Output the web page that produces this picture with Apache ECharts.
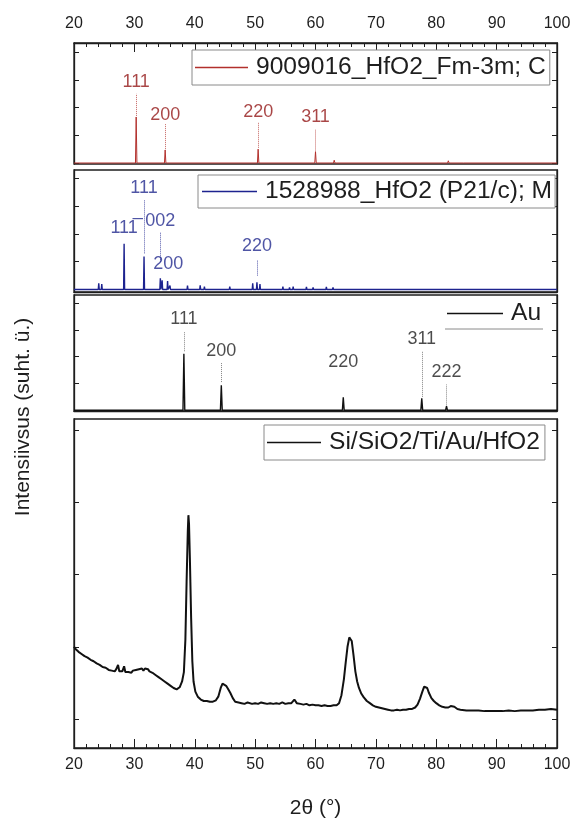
<!DOCTYPE html>
<html>
<head>
<meta charset="utf-8">
<script src="https://cdn.jsdelivr.net/npm/echarts@6/dist/echarts.min.js"></script>
<style>
  html, body { margin: 0; padding: 0; background: #fff; }
  #chart { width: 578px; height: 823px; }
</style>
</head>
<body>
<div id="chart"></div>
<script>
// ---- Reference patterns (relative intensity) ----
const cubicName = '9009016_HfO2_Fm-3m; C';
const cubicTheta = [30.3, 35.1, 50.5, 60.0, 63.1, 74.3, 82.0, 84.6, 95.0];
const cubicInt   = [1.66, 0.47, 0.50, 0.41, 0.10, 0.04, 0.08, 0.06, 0.06];

const monoName = '1528988_HfO2 (P21/c); M';
const monoTheta = [24.1, 24.6, 28.3, 31.6, 34.3, 34.6, 35.5, 35.9, 38.8, 40.9, 41.6, 45.8,
                   49.6, 50.3, 50.8, 54.6, 55.7, 56.3, 57.4, 58.5, 59.6, 60.7, 61.8, 62.9,
                   63.5, 66.2, 75.3];
const monoInt   = [0.22, 0.20, 1.65, 1.19, 0.40, 0.33, 0.30, 0.14, 0.14, 0.15, 0.10, 0.10,
                   0.22, 0.26, 0.20, 0.10, 0.08, 0.10, 0.07, 0.09, 0.08, 0.07, 0.09, 0.08,
                   0.06, 0.05, 0.04];

const auName = 'Au';
const auTheta = [38.2, 44.4, 64.6, 77.6, 81.7, 98.1];
const auInt   = [2.11, 0.93, 0.48, 0.44, 0.15, 0.05];

// ---- Measured film pattern: [2θ, intensity] ----
const sampleName = 'Si/SiO2/Ti/Au/HfO2';
const sampleScan = [
  [20.0, 2.00], [20.25, 1.97], [20.5, 1.96], [20.75, 1.93], [21.0, 1.94], [21.25, 1.90],
  [21.5, 1.90], [21.75, 1.87], [22.0, 1.88], [22.25, 1.85], [22.5, 1.85], [22.75, 1.82],
  [23.0, 1.83], [23.25, 1.80], [23.5, 1.80], [23.75, 1.77], [24.0, 1.78], [24.25, 1.75],
  [24.5, 1.76], [24.75, 1.72], [25.0, 1.74], [25.25, 1.71], [25.5, 1.71], [25.75, 1.68],
  [26.0, 1.70], [26.25, 1.67], [26.5, 1.68], [26.75, 1.66], [27.0, 1.69], [27.3, 1.75],
  [27.5, 1.66], [27.75, 1.68], [28.0, 1.66], [28.3, 1.73], [28.5, 1.65], [28.75, 1.67],
  [29.0, 1.65], [29.25, 1.67], [29.5, 1.64], [29.75, 1.67], [30.0, 1.65], [30.25, 1.68],
  [30.5, 1.66], [30.75, 1.69], [31.0, 1.67], [31.25, 1.70], [31.5, 1.67], [31.75, 1.70],
  [32.0, 1.68], [32.25, 1.69], [32.5, 1.66], [32.75, 1.67], [33.0, 1.64], [33.25, 1.64],
  [33.5, 1.61], [33.75, 1.61], [34.0, 1.58], [34.25, 1.58], [34.5, 1.55], [34.75, 1.54],
  [35.0, 1.52], [35.25, 1.51], [35.5, 1.49], [35.75, 1.48], [36.0, 1.46], [36.25, 1.45],
  [36.5, 1.43], [36.75, 1.43], [37.0, 1.41], [37.25, 1.43], [37.5, 1.44], [37.9, 1.52],
  [38.2, 1.65], [38.45, 2.10], [38.65, 2.90], [38.85, 3.60], [38.95, 3.82], [39.05, 3.70],
  [39.2, 3.20], [39.4, 2.40], [39.6, 1.80], [39.8, 1.52], [40.1, 1.38], [40.5, 1.31],
  [40.75, 1.29], [41.0, 1.27], [41.25, 1.26], [41.5, 1.25], [41.75, 1.27], [42.0, 1.25],
  [42.25, 1.26], [42.5, 1.24], [42.75, 1.25], [43.0, 1.24], [43.25, 1.26], [43.5, 1.26],
  [43.9, 1.31], [44.3, 1.43], [44.6, 1.49], [44.9, 1.51], [45.2, 1.46], [45.5, 1.42],
  [45.9, 1.36], [46.3, 1.29], [46.7, 1.24], [47.0, 1.22], [47.25, 1.23], [47.5, 1.21],
  [47.75, 1.22], [48.0, 1.23], [48.25, 1.21], [48.5, 1.21], [48.75, 1.23], [49.0, 1.22],
  [49.5, 1.21], [50.0, 1.22], [50.5, 1.21], [51.0, 1.23], [51.5, 1.22], [52.0, 1.21],
  [52.5, 1.22], [53.0, 1.21], [53.5, 1.22], [54.0, 1.21], [54.5, 1.23], [55.0, 1.21],
  [55.5, 1.22], [56.0, 1.22], [56.5, 1.27], [56.9, 1.22], [57.5, 1.21], [58.0, 1.20],
  [58.5, 1.21], [59.0, 1.19], [59.5, 1.20], [60.0, 1.19], [60.5, 1.19], [61.0, 1.18],
  [61.5, 1.19], [62.0, 1.18], [62.5, 1.18], [63.0, 1.19], [63.5, 1.19], [63.9, 1.22],
  [64.3, 1.33], [64.7, 1.55], [65.0, 1.78], [65.3, 2.00], [65.6, 2.13], [65.8, 2.15],
  [66.0, 2.08], [66.3, 1.88], [66.6, 1.66], [66.9, 1.52], [67.2, 1.43], [67.6, 1.35],
  [68.0, 1.30], [68.5, 1.25], [69.0, 1.22], [69.5, 1.19], [70.0, 1.17], [70.5, 1.16],
  [71.0, 1.15], [71.5, 1.14], [72.0, 1.13], [72.5, 1.12], [73.0, 1.12], [73.5, 1.13],
  [74.0, 1.12], [74.5, 1.13], [75.0, 1.13], [75.5, 1.14], [76.0, 1.14], [76.5, 1.16],
  [76.9, 1.20], [77.3, 1.28], [77.7, 1.38], [78.0, 1.45], [78.25, 1.47], [78.5, 1.43],
  [78.8, 1.36], [79.2, 1.29], [79.6, 1.25], [80.0, 1.22], [80.5, 1.19], [81.0, 1.17],
  [81.5, 1.16], [82.0, 1.16], [82.4, 1.18], [82.7, 1.20], [83.0, 1.17], [83.5, 1.14],
  [84.0, 1.13], [85.0, 1.12], [86.0, 1.12], [87.0, 1.12], [88.0, 1.11], [89.0, 1.11],
  [90.0, 1.11], [91.0, 1.11], [92.0, 1.12], [93.0, 1.11], [94.0, 1.12], [95.0, 1.12],
  [96.0, 1.12], [97.0, 1.13], [98.0, 1.13], [99.0, 1.14], [100.0, 1.13]
];

// ---- Miller index annotations: peak angle, guide span and text height ----
const cubicHkl       = ['111', '200', '220', '311'];
const cubicHklTheta  = [30.3, 35.1, 50.5, 60.0];
const cubicGuideLow  = [1.70, 0.50, 0.55, 0.45];
const cubicGuideHigh = [2.50, 1.40, 1.45, 1.20];
const cubicTextAt    = [2.92, 1.73, 1.85, 1.67];

const monoHkl       = ['111', '11\u0031\u0305', '002', '200', '220'];
const monoHklTheta  = [31.6, 28.3, 34.3, 35.6, 50.3];
const monoGuideLow  = [1.30, null, 1.00, null, 0.50];
const monoGuideHigh = [3.25, null, 2.05, null, 1.06];
const monoTextAt    = [3.66, 2.20, 2.46, 0.90, 1.56];

const auHkl       = ['111', '200', '220', '311', '222'];
const auHklTheta  = [38.2, 44.4, 64.6, 77.6, 81.7];
const auGuideLow  = [2.20, 1.05, null, 0.50, 0.18];
const auGuideHigh = [2.95, 1.77, null, 2.22, 0.96];
const auTextAt    = [3.41, 2.22, 1.78, 2.67, 1.44];

const xTicks = [20, 30, 40, 50, 60, 70, 80, 90, 100];

// ---- helpers ----
const FONT = "'Liberation Sans', Arial, Helvetica, sans-serif";
const INK = '#1e1e1e';
const RED = '#b2302c', RED_TXT = '#941818';
const BLUE = '#1d238f', BLUE_TXT = '#232b8f';

function stickPattern(theta, inten, halfWidth) {
  const pts = [[20, 0]];
  theta.forEach((t, i) => { pts.push([t - halfWidth, 0], [t, inten[i]], [t + halfWidth, 0]); });
  pts.push([100, 0]);
  return pts;
}

function guides(theta, low, high) {
  const out = [];
  theta.forEach((t, i) => {
    if (low[i] == null) return;
    out.push([{ coord: [t, low[i]] }, { coord: [t, high[i]] }]);
  });
  return out;
}

function hklLabels(gi, hkl, theta, at, color) {
  return {
    type: 'scatter', xAxisIndex: gi, yAxisIndex: gi * 2, silent: true,
    symbolSize: 1, itemStyle: { color: 'rgba(0,0,0,0)' },
    data: hkl.map((h, i) => ({ name: h, value: [theta[i], at[i]] })),
    label: {
      show: true, position: 'inside', formatter: p => p.name,
      fontSize: 18, fontFamily: FONT, color: color
    },
    z: 5
  };
}

function yPair(gi, min, max, ticks) {
  const base = {
    type: 'value', gridIndex: gi, min: min, max: max,
    axisLine: { show: true, lineStyle: { color: INK, width: 1.3 } },
    axisTick: { show: true, inside: true, length: 5, customValues: ticks, lineStyle: { color: INK, width: 1 } },
    axisLabel: { show: false }, splitLine: { show: false }
  };
  return [Object.assign({ position: 'left' }, base), Object.assign({ position: 'right' }, base)];
}

function xAxisFor(gi, pos, withScale) {
  return {
    type: 'value', gridIndex: gi, position: pos, min: 20, max: 100, interval: 10,
    axisLine: { show: true, onZero: false, lineStyle: { color: INK, width: 1.3 } },
    axisTick: { show: withScale, inside: true, length: 9, lineStyle: { color: INK, width: 1 } },
    minorTick: { show: withScale, splitNumber: 5, length: 4, lineStyle: { color: INK, width: 1 } },
    axisLabel: {
      show: withScale, fontSize: 16, fontFamily: FONT, color: INK,
      margin: pos === 'top' ? 11 : 9,
      formatter: v => (xTicks.indexOf(v) >= 0 ? String(v) : '')
    },
    splitLine: { show: false }, minorSplitLine: { show: false }
  };
}

function legendBox(name, left, top, itemWidth, pad, border) {
  return {
    data: [{ name: name, icon: 'rect' }], left: left, top: top, orient: 'horizontal',
    itemWidth: itemWidth, itemHeight: 1.5, itemGap: 0, padding: pad,
    borderColor: border ? '#8a8a8a' : 'transparent', borderWidth: border ? 1 : 0, borderRadius: 0,
    backgroundColor: '#fff', selectedMode: false,
    textStyle: { fontSize: 24.6, fontFamily: FONT, color: INK, padding: [0, 0, 0, 3] }
  };
}

const gridBase = { left: 74, right: 21, show: true, borderColor: INK, borderWidth: 1.3, backgroundColor: 'transparent' };

const chart = echarts.init(document.getElementById('chart'), null, { renderer: 'canvas' });
chart.setOption({
  animation: false,
  backgroundColor: '#fff',
  grid: [
    Object.assign({ top: 43, height: 121 }, gridBase),
    Object.assign({ top: 170, height: 122 }, gridBase),
    Object.assign({ top: 295, height: 116 }, gridBase),
    Object.assign({ top: 419, height: 329 }, gridBase)
  ],
  xAxis: [
    xAxisFor(0, 'top', true),
    xAxisFor(1, 'bottom', false),
    xAxisFor(2, 'bottom', false),
    Object.assign(xAxisFor(3, 'bottom', true), {
      name: '2\u03b8 (\u00b0)', nameLocation: 'middle', nameGap: 50,
      nameTextStyle: { fontSize: 21, fontFamily: FONT, color: INK }
    })
  ],
  yAxis: [].concat(
    yPair(0, -0.036, 4.33, [0, 1, 2, 3, 4]),
    yPair(1, -0.09, 4.30, [0, 1, 2, 3, 4]),
    yPair(2, -0.03, 4.30, [0, 1, 2, 3, 4]),
    yPair(3, 0.6, 5.15, [1, 2, 3, 4, 5])
  ),
  legend: [
    legendBox(cubicName, 192, 50, 53, [5, 4, 5, 3], true),
    legendBox(monoName, 198, 175, 55, [4, 3, 4, 4], true),
    legendBox(auName, 445, 297, 56, [4, 3, 4, 2], false),
    legendBox(sampleName, 264, 425, 54, [5, 5, 5, 3], true)
  ],
  series: [
    {
      name: cubicName, type: 'line', xAxisIndex: 0, yAxisIndex: 0,
      data: stickPattern(cubicTheta, cubicInt, 0.12), symbol: 'none',
      color: RED, lineStyle: { color: RED, width: 1 },
      markLine: {
        silent: true, symbol: ['none', 'none'], label: { show: false },
        lineStyle: { color: RED, type: 'dotted', width: 1, opacity: 0.75 },
        data: guides(cubicHklTheta, cubicGuideLow, cubicGuideHigh)
      }
    },
    hklLabels(0, cubicHkl, cubicHklTheta, cubicTextAt, RED_TXT),
    {
      name: monoName, type: 'line', xAxisIndex: 1, yAxisIndex: 2,
      data: stickPattern(monoTheta, monoInt, 0.08), symbol: 'none',
      color: BLUE, lineStyle: { color: BLUE, width: 1.4 },
      markLine: {
        silent: true, symbol: ['none', 'none'], label: { show: false },
        lineStyle: { color: BLUE, type: 'dotted', width: 1, opacity: 0.75 },
        data: guides(monoHklTheta, monoGuideLow, monoGuideHigh)
      }
    },
    hklLabels(1, monoHkl, monoHklTheta, monoTextAt, BLUE_TXT),
    {
      name: auName, type: 'line', xAxisIndex: 2, yAxisIndex: 4,
      data: stickPattern(auTheta, auInt, 0.15), symbol: 'none',
      color: '#111', lineStyle: { color: '#111', width: 1.4 },
      markLine: {
        silent: true, symbol: ['none', 'none'], label: { show: false },
        lineStyle: { color: '#666', type: 'dotted', width: 1, opacity: 0.8 },
        data: guides(auHklTheta, auGuideLow, auGuideHigh)
      }
    },
    hklLabels(2, auHkl, auHklTheta, auTextAt, INK),
    {
      name: sampleName, type: 'line', xAxisIndex: 3, yAxisIndex: 6,
      data: sampleScan, symbol: 'none',
      color: '#111', lineStyle: { color: '#111', width: 2 }
    }
  ],
  graphic: [
    {
      type: 'text', x: 23, y: 417, rotation: Math.PI / 2,
      style: {
        text: 'Intensiivsus (suht. \u00fc.)', fontSize: 21, fontFamily: FONT,
        fill: INK, align: 'center', verticalAlign: 'middle'
      }
    },
    {
      type: 'line', shape: { x1: 445, y1: 329, x2: 543, y2: 329 },
      style: { stroke: '#8a8a8a', lineWidth: 1 }, z: 10
    }
  ]
});
</script>
</body>
</html>
